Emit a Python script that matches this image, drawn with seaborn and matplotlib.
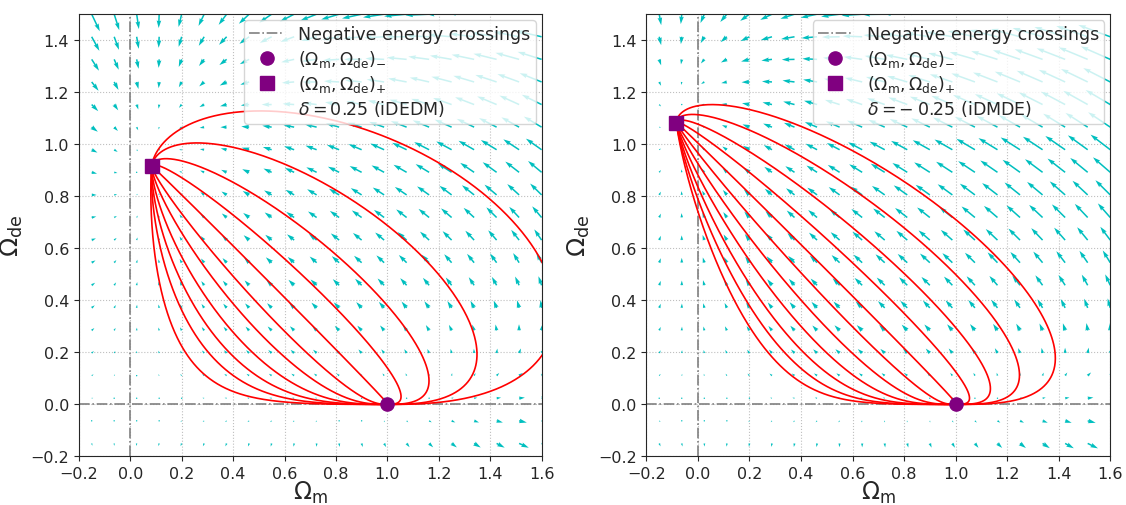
import numpy as np
import pandas as pd
import seaborn as sns
import matplotlib.pyplot as plt

# interaction strength and model name of each panel
deltas = [0.25, -0.25]
delta_texts = ["0.25", r"- \: 0.25"]
model_names = ["iDEDM", "iDMDE"]

# each red trajectory is fixed by the point where it crosses a horizontal
# reference line
ref_y = [0.566, 0.706]
cross_x_left = [0.097, 0.126, 0.158, 0.201, 0.262, 0.336, 0.444, 0.593, 0.811, 1.138, 1.591]
cross_x_right = [0.012, 0.033, 0.061, 0.100, 0.152, 0.219, 0.307, 0.421, 0.568, 0.766, 1.006]
cross_x = [cross_x_left, cross_x_right]

# where the arrows of the vector field sit
grid_om = np.linspace(-0.15, 1.6, 21)
grid_ode = np.linspace(-0.15, 1.5, 20)

xticks = np.arange(-0.2, 1.61, 0.2)
yticks = np.arange(-0.2, 1.41, 0.2)


def flow(om, ode, d):
    # dOmega/dlna for matter, dark energy (w=-1) and curvature, Q = d*H*rho_de
    dom = -om + om**2 - 2 * om * ode + d * ode
    dode = ode * (2 - d + om - 2 * ode)
    return dom, dode


def trajectory(om0, ode0, d):
    # exact solution through (om0, ode0) at a = 1
    a = np.exp(np.linspace(-12, 40, 6000))
    B = d * ode0 / (3 - d)
    A = om0 - B
    K = 1 - om0 - ode0
    rm = A * a**-3 + B * a**-d
    rde = ode0 * a**-d
    tot = rm + rde + K * a**-2
    return rm / tot, rde / tot


sns.set_style("ticks")
plt.rcParams["font.family"] = ["DejaVu Sans"]

fig = plt.figure(figsize=(11.26, 5.06), dpi=100)
axes = [fig.add_axes([0.070, 0.096, 0.411, 0.874]),
        fig.add_axes([0.574, 0.096, 0.412, 0.874])]

for ax, d, dtxt, name, y_ref, xs in zip(axes, deltas, delta_texts, model_names, ref_y, cross_x):
    ax.grid(True, ls=":", lw=0.8, color="0.75")

    OM, ODE = np.meshgrid(grid_om, grid_ode)
    U, V = flow(OM, ODE, d)
    ax.quiver(OM, ODE, U, V, color="c", scale=57, scale_units="width",
              width=0.0033, zorder=2)

    rows = []
    for i, x0 in enumerate(xs):
        om, ode = trajectory(x0, y_ref, d)
        rows.append(pd.DataFrame({"curve": i, "om": om, "ode": ode}))
    df = pd.concat(rows, ignore_index=True)
    sns.lineplot(data=df, x="om", y="ode", units="curve", estimator=None,
                 sort=False, color="red", lw=1.2, legend=False, ax=ax, zorder=3)

    h0 = ax.axvline(0, color="gray", ls="-.", lw=1.2, zorder=2.5)
    ax.axhline(0, color="gray", ls="-.", lw=1.2, zorder=2.5)
    h1, = ax.plot([1.0], [0.0], "o", color="purple", ms=9.5, zorder=4)
    h2, = ax.plot([d / 3], [1 - d / 3], "s", color="purple", ms=9.5, zorder=4)
    h3, = ax.plot([], [], " ")

    ax.legend([h0, h1, h2, h3],
              ["Negative energy crossings",
               r"$(\Omega_\mathrm{m},\Omega_\mathrm{de})_{-}$",
               r"$(\Omega_\mathrm{m},\Omega_\mathrm{de})_{+}$",
               r"$\delta = %s$ (%s)" % (dtxt, name)],
              loc="upper right", fontsize=12.5, labelspacing=0.25,
              borderaxespad=0.35, borderpad=0.3)

    ax.set_xlim(-0.2, 1.6)
    ax.set_ylim(-0.2, 1.5)
    ax.set_xticks(xticks)
    ax.set_yticks(yticks)
    ax.tick_params(labelsize=11.5)
    ax.set_xlabel(r"$\Omega_\mathrm{m}$", fontsize=17, labelpad=-2)
    ax.set_ylabel(r"$\Omega_\mathrm{de}$", fontsize=18)

fig.savefig("out.png", dpi=100)
